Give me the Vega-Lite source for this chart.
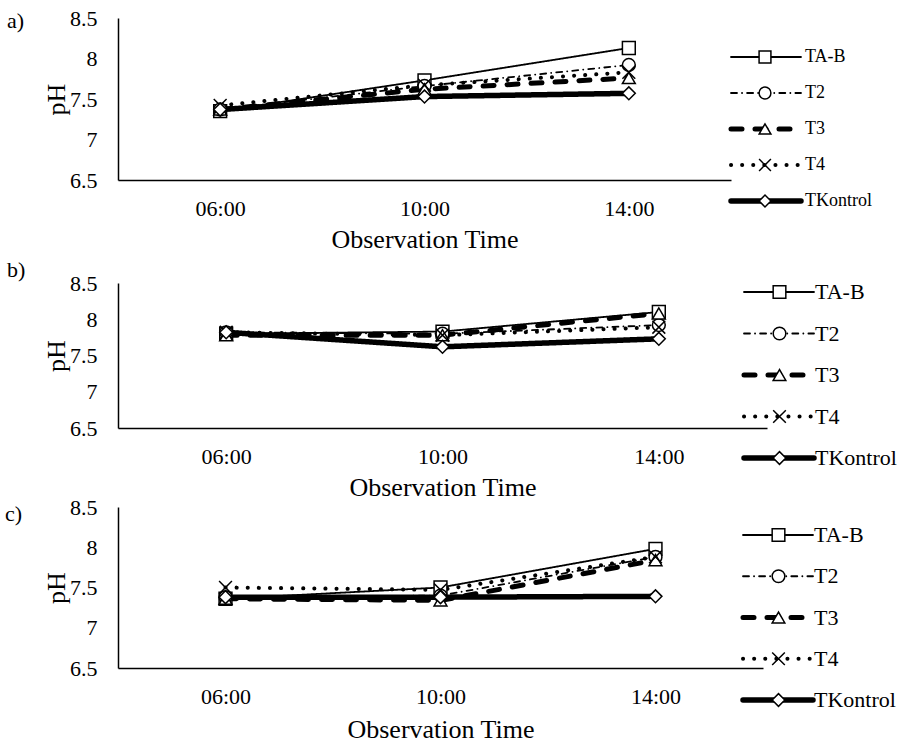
{
  "$schema": "https://vega.github.io/schema/vega-lite/v6.json",
  "padding": {"left": 5, "top": 7, "right": 0, "bottom": 0},
  "background": "white",
  "datasets": {
    "ph": [
      {"panel": "a", "time": "06:00", "series": "TA-B", "pH": 7.35},
      {"panel": "a", "time": "10:00", "series": "TA-B", "pH": 7.73},
      {"panel": "a", "time": "14:00", "series": "TA-B", "pH": 8.13},
      {"panel": "a", "time": "06:00", "series": "T2", "pH": 7.37},
      {"panel": "a", "time": "10:00", "series": "T2", "pH": 7.66},
      {"panel": "a", "time": "14:00", "series": "T2", "pH": 7.92},
      {"panel": "a", "time": "06:00", "series": "T3", "pH": 7.37},
      {"panel": "a", "time": "10:00", "series": "T3", "pH": 7.62},
      {"panel": "a", "time": "14:00", "series": "T3", "pH": 7.76},
      {"panel": "a", "time": "06:00", "series": "T4", "pH": 7.42},
      {"panel": "a", "time": "10:00", "series": "T4", "pH": 7.67},
      {"panel": "a", "time": "14:00", "series": "T4", "pH": 7.83},
      {"panel": "a", "time": "06:00", "series": "TKontrol", "pH": 7.37},
      {"panel": "a", "time": "10:00", "series": "TKontrol", "pH": 7.53},
      {"panel": "a", "time": "14:00", "series": "TKontrol", "pH": 7.57},
      {"panel": "b", "time": "06:00", "series": "TA-B", "pH": 7.8},
      {"panel": "b", "time": "10:00", "series": "TA-B", "pH": 7.83},
      {"panel": "b", "time": "14:00", "series": "TA-B", "pH": 8.1},
      {"panel": "b", "time": "06:00", "series": "T2", "pH": 7.82},
      {"panel": "b", "time": "10:00", "series": "T2", "pH": 7.8},
      {"panel": "b", "time": "14:00", "series": "T2", "pH": 7.92},
      {"panel": "b", "time": "06:00", "series": "T3", "pH": 7.78},
      {"panel": "b", "time": "10:00", "series": "T3", "pH": 7.78},
      {"panel": "b", "time": "14:00", "series": "T3", "pH": 8.08},
      {"panel": "b", "time": "06:00", "series": "T4", "pH": 7.82},
      {"panel": "b", "time": "10:00", "series": "T4", "pH": 7.78},
      {"panel": "b", "time": "14:00", "series": "T4", "pH": 7.89},
      {"panel": "b", "time": "06:00", "series": "TKontrol", "pH": 7.82},
      {"panel": "b", "time": "10:00", "series": "TKontrol", "pH": 7.62},
      {"panel": "b", "time": "14:00", "series": "TKontrol", "pH": 7.73},
      {"panel": "c", "time": "06:00", "series": "TA-B", "pH": 7.36},
      {"panel": "c", "time": "10:00", "series": "TA-B", "pH": 7.5},
      {"panel": "c", "time": "14:00", "series": "TA-B", "pH": 7.98},
      {"panel": "c", "time": "06:00", "series": "T2", "pH": 7.38},
      {"panel": "c", "time": "10:00", "series": "T2", "pH": 7.4},
      {"panel": "c", "time": "14:00", "series": "T2", "pH": 7.88},
      {"panel": "c", "time": "06:00", "series": "T3", "pH": 7.36},
      {"panel": "c", "time": "10:00", "series": "T3", "pH": 7.34},
      {"panel": "c", "time": "14:00", "series": "T3", "pH": 7.84},
      {"panel": "c", "time": "06:00", "series": "T4", "pH": 7.5},
      {"panel": "c", "time": "10:00", "series": "T4", "pH": 7.47},
      {"panel": "c", "time": "14:00", "series": "T4", "pH": 7.88},
      {"panel": "c", "time": "06:00", "series": "TKontrol", "pH": 7.38},
      {"panel": "c", "time": "10:00", "series": "TKontrol", "pH": 7.38},
      {"panel": "c", "time": "14:00", "series": "TKontrol", "pH": 7.39}
    ]
  },
  "data": {"name": "ph"},
  "bounds": "flush",
  "spacing": 103,
  "resolve": {
    "scale": {"strokeDash": "independent", "strokeWidth": "independent", "shape": "independent"},
    "legend": {"strokeDash": "independent", "strokeWidth": "independent", "shape": "independent"}
  },
  "vconcat": [
    {
      "width": 613,
      "height": 162,
      "title": {"text": "a)", "orient": "top", "anchor": "start", "frame": "group", "dx": -111, "dy": 26, "offset": 0, "fontSize": 22, "fontWeight": "normal", "font": "Liberation Serif", "color": "black"},
      "transform": [{"filter": "datum.panel === 'a'"}],
      "layer": [
        {
          "mark": {"type": "line", "color": "black", "strokeCap": "round", "strokeJoin": "round"},
          "encoding": {
            "x": {"field": "time", "type": "ordinal", "scale": {"type": "point", "padding": 0.5}, "title": "Observation Time"},
            "y": {"field": "pH", "type": "quantitative", "scale": {"domain": [6.5, 8.5], "nice": false, "zero": false}, "axis": {"values": [6.5, 7, 7.5, 8, 8.5], "tickCount": 10, "labelExpr": "'' + datum.value", "labelOverlap": false}, "title": "pH"},
            "strokeDash": {"field": "series", "type": "nominal", "scale": {"domain": ["TA-B", "T2", "T3", "T4", "TKontrol"], "range": [[1, 0], [6, 5, 0.1, 5], [11, 13], [0.1, 11], [1, 0]]},
              "legend": {"orient": "none", "legendX": 610, "legendY": 24, "title": null, "symbolType": "stroke", "symbolSize": 4900, "symbolStrokeColor": "black", "clipHeight": 30, "rowPadding": 6, "labelFontSize": 18, "labelOffset": 1, "encode": {"symbols": {"update": {"strokeCap": {"value": "round"}}}}}},
            "strokeWidth": {"field": "series", "type": "nominal", "scale": {"type": "ordinal", "domain": ["TA-B", "T2", "T3", "T4", "TKontrol"], "range": [1.8, 1.8, 5, 4, 5.5]},
              "legend": {"orient": "none", "legendX": 610, "legendY": 24, "title": null, "symbolType": "stroke", "symbolSize": 4900, "symbolStrokeColor": "black", "clipHeight": 30, "rowPadding": 6, "labelFontSize": 18, "labelOffset": 1, "encode": {"symbols": {"update": {"strokeCap": {"value": "round"}}}}}}
          }
        },
        {
          "mark": {"type": "point", "filled": true, "fill": "white", "stroke": "black", "strokeWidth": 1.5, "size": 165, "opacity": 1},
          "encoding": {
            "x": {"field": "time", "type": "ordinal"},
            "y": {"field": "pH", "type": "quantitative"},
            "shape": {"field": "series", "type": "nominal", "sort": ["TA-B", "T2", "T3", "T4", "TKontrol"], "scale": {"range": ["square", "circle", "triangle-up", "M-1,-1L1,1M-1,1L1,-1", "diamond"]},
              "legend": {"orient": "none", "legendX": 640, "legendY": 24, "title": null, "symbolSize": 140, "symbolStrokeWidth": 1.5, "clipHeight": 30, "rowPadding": 6, "labelFontSize": 1, "labelOpacity": 0, "encode": {"symbols": {"update": {"fill": {"value": "transparent"}, "stroke": {"value": "black"}, "opacity": {"value": 1}}}}}}
          }
        }
      ]
    },
    {
      "bounds": "flush",
      "spacing": 79,
      "resolve": {
        "scale": {"strokeDash": "independent", "strokeWidth": "independent", "shape": "independent"},
        "legend": {"strokeDash": "independent", "strokeWidth": "independent", "shape": "independent"}
      },
      "vconcat": [
        {
          "width": 649,
          "height": 145,
          "title": {"text": "b)", "orient": "top", "anchor": "start", "frame": "group", "dx": -111, "dy": 10, "offset": 0, "fontSize": 22, "fontWeight": "normal", "font": "Liberation Serif", "color": "black"},
          "transform": [{"filter": "datum.panel === 'b'"}],
          "layer": [
            {
              "mark": {"type": "line", "color": "black", "strokeCap": "round", "strokeJoin": "round"},
              "encoding": {
                "x": {"field": "time", "type": "ordinal", "scale": {"type": "point", "padding": 0.5}, "title": "Observation Time"},
                "y": {"field": "pH", "type": "quantitative", "scale": {"domain": [6.5, 8.5], "nice": false, "zero": false}, "axis": {"values": [6.5, 7, 7.5, 8, 8.5], "tickCount": 10, "labelExpr": "'' + datum.value", "labelOverlap": false}, "title": "pH"},
                "strokeDash": {"field": "series", "type": "nominal", "scale": {"domain": ["TA-B", "T2", "T3", "T4", "TKontrol"], "range": [[1, 0], [6, 5, 0.1, 5], [11, 13], [0.1, 11], [1, 0]]},
                  "legend": {"orient": "none", "legendX": 623, "legendY": -8, "title": null, "symbolType": "stroke", "symbolSize": 4900, "symbolStrokeColor": "black", "clipHeight": 34, "rowPadding": 7.5, "labelFontSize": 22, "labelOffset": -2, "encode": {"symbols": {"update": {"strokeCap": {"value": "round"}}}}}},
                "strokeWidth": {"field": "series", "type": "nominal", "scale": {"type": "ordinal", "domain": ["TA-B", "T2", "T3", "T4", "TKontrol"], "range": [1.8, 1.8, 5, 4, 5.5]},
                  "legend": {"orient": "none", "legendX": 623, "legendY": -8, "title": null, "symbolType": "stroke", "symbolSize": 4900, "symbolStrokeColor": "black", "clipHeight": 34, "rowPadding": 7.5, "labelFontSize": 22, "labelOffset": -2, "encode": {"symbols": {"update": {"strokeCap": {"value": "round"}}}}}}
              }
            },
            {
              "mark": {"type": "point", "filled": true, "fill": "white", "stroke": "black", "strokeWidth": 1.5, "size": 165, "opacity": 1},
              "encoding": {
                "x": {"field": "time", "type": "ordinal"},
                "y": {"field": "pH", "type": "quantitative"},
                "shape": {"field": "series", "type": "nominal", "sort": ["TA-B", "T2", "T3", "T4", "TKontrol"], "scale": {"range": ["square", "circle", "triangle-up", "M-1,-1L1,1M-1,1L1,-1", "diamond"]},
                  "legend": {"orient": "none", "legendX": 654, "legendY": -8, "title": null, "symbolSize": 160, "symbolStrokeWidth": 1.5, "clipHeight": 34, "rowPadding": 7.5, "labelFontSize": 1, "labelOpacity": 0, "encode": {"symbols": {"update": {"fill": {"value": "transparent"}, "stroke": {"value": "black"}, "opacity": {"value": 1}}}}}}
              }
            }
          ]
        },
        {
          "width": 645,
          "height": 161,
          "title": {"text": "c)", "orient": "top", "anchor": "start", "frame": "group", "dx": -113, "dy": 30, "offset": 0, "fontSize": 22, "fontWeight": "normal", "font": "Liberation Serif", "color": "black"},
          "transform": [{"filter": "datum.panel === 'c'"}],
          "layer": [
            {
              "mark": {"type": "line", "color": "black", "strokeCap": "round", "strokeJoin": "round"},
              "encoding": {
                "x": {"field": "time", "type": "ordinal", "scale": {"type": "point", "padding": 0.5}, "axis": {"titlePadding": 9}, "title": "Observation Time"},
                "y": {"field": "pH", "type": "quantitative", "scale": {"domain": [6.5, 8.5], "nice": false, "zero": false}, "axis": {"values": [6.5, 7, 7.5, 8, 8.5], "tickCount": 10, "labelExpr": "'' + datum.value", "labelOverlap": false}, "title": "pH"},
                "strokeDash": {"field": "series", "type": "nominal", "scale": {"domain": ["TA-B", "T2", "T3", "T4", "TKontrol"], "range": [[1, 0], [6, 5, 0.1, 5], [11, 13], [0.1, 11], [1, 0]]},
                  "legend": {"orient": "none", "legendX": 622, "legendY": 11, "title": null, "symbolType": "stroke", "symbolSize": 4900, "symbolStrokeColor": "black", "clipHeight": 34, "rowPadding": 7.25, "labelFontSize": 22, "labelOffset": -2, "encode": {"symbols": {"update": {"strokeCap": {"value": "round"}}}}}},
                "strokeWidth": {"field": "series", "type": "nominal", "scale": {"type": "ordinal", "domain": ["TA-B", "T2", "T3", "T4", "TKontrol"], "range": [1.8, 1.8, 5, 4, 5.5]},
                  "legend": {"orient": "none", "legendX": 622, "legendY": 11, "title": null, "symbolType": "stroke", "symbolSize": 4900, "symbolStrokeColor": "black", "clipHeight": 34, "rowPadding": 7.25, "labelFontSize": 22, "labelOffset": -2, "encode": {"symbols": {"update": {"strokeCap": {"value": "round"}}}}}}
              }
            },
            {
              "mark": {"type": "point", "filled": true, "fill": "white", "stroke": "black", "strokeWidth": 1.5, "size": 165, "opacity": 1},
              "encoding": {
                "x": {"field": "time", "type": "ordinal"},
                "y": {"field": "pH", "type": "quantitative"},
                "shape": {"field": "series", "type": "nominal", "sort": ["TA-B", "T2", "T3", "T4", "TKontrol"], "scale": {"range": ["square", "circle", "triangle-up", "M-1,-1L1,1M-1,1L1,-1", "diamond"]},
                  "legend": {"orient": "none", "legendX": 653, "legendY": 11, "title": null, "symbolSize": 160, "symbolStrokeWidth": 1.5, "clipHeight": 34, "rowPadding": 7.25, "labelFontSize": 1, "labelOpacity": 0, "encode": {"symbols": {"update": {"fill": {"value": "transparent"}, "stroke": {"value": "black"}, "opacity": {"value": 1}}}}}}
              }
            }
          ]
        }
      ]
    }
  ],
  "config": {
    "font": "Liberation Serif",
    "view": {"stroke": null},
    "axis": {"domainColor": "black", "domainWidth": 1.5, "ticks": false, "grid": false, "labelColor": "black", "titleColor": "black", "labelFont": "Liberation Serif", "titleFont": "Liberation Serif", "labelFontSize": 22, "titleFontSize": 26, "titleFontWeight": "normal"},
    "axisX": {"labelAngle": 0, "labelPadding": 18, "titlePadding": 7},
    "axisY": {"labelPadding": 21, "titlePadding": 0, "labelOverlap": false},
    "legend": {"labelFont": "Liberation Serif", "labelColor": "black", "labelLimit": 0}
  }
}
